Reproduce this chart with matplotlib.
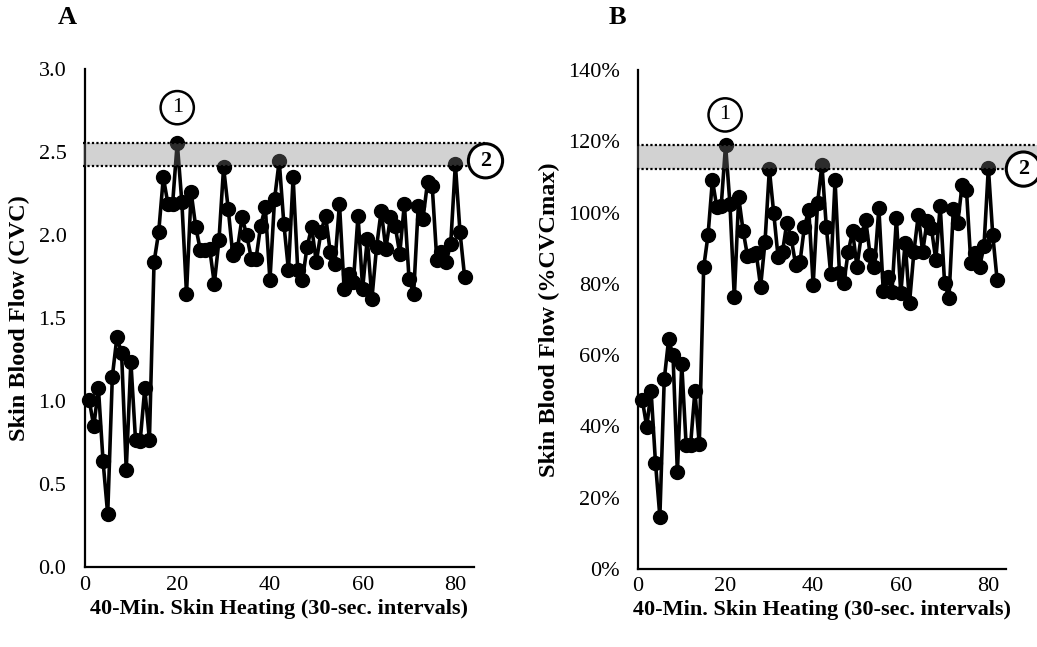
import numpy as np
import matplotlib.pyplot as plt
from matplotlib.ticker import PercentFormatter, FormatStrFormatter

plt.rcParams['font.family'] = ['Liberation Serif', 'DejaVu Serif']

# 30-sec intervals over 40 min of local skin heating
interval = np.arange(1, 83)

# panel A: cutaneous vascular conductance
cvc = np.array([
    1.01, 0.85, 1.08, 0.64, 0.32, 1.15, 1.39, 1.29, 0.59, 1.24,
    0.77, 0.76, 1.08, 0.77, 1.84, 2.02, 2.35, 2.19, 2.19, 2.56,
    2.20, 1.65, 2.26, 2.05, 1.91, 1.91, 1.92, 1.71, 1.97, 2.41,
    2.16, 1.88, 1.92, 2.11, 2.00, 1.86, 1.86, 2.06, 2.17, 1.73,
    2.22, 2.45, 2.07, 1.79, 2.35, 1.79, 1.73, 1.93, 2.05, 1.84,
    2.02, 2.12, 1.90, 1.83, 2.19, 1.68, 1.77, 1.72, 2.12, 1.68,
    1.98, 1.62, 1.93, 2.15, 1.92, 2.11, 2.06, 1.89, 2.19, 1.74,
    1.65, 2.18, 2.10, 2.32, 2.30, 1.85, 1.90, 1.84, 1.95, 2.43,
    2.02, 1.75])

# panel B: same signal as % of CVCmax
pct_cvcmax = np.array([
    47.4, 39.9, 49.9, 29.8, 14.7, 53.2, 64.4, 60.0, 27.1, 57.5,
    34.8, 34.7, 49.9, 35.0, 84.6, 93.7, 109.1, 101.5, 101.8, 119.0,
    102.4, 76.2, 104.3, 94.9, 87.9, 88.0, 88.6, 79.2, 91.7, 112.1,
    99.8, 87.4, 89.0, 97.2, 92.8, 85.3, 86.2, 96.0, 100.7, 79.7,
    102.6, 113.4, 96.0, 82.8, 109.0, 83.0, 80.2, 89.0, 94.7, 84.8,
    93.7, 97.9, 88.1, 84.8, 101.2, 78.1, 82.0, 77.8, 98.4, 77.3,
    91.6, 74.7, 89.0, 99.3, 89.0, 97.5, 95.6, 86.7, 101.9, 80.3,
    76.0, 100.9, 97.0, 107.7, 106.3, 85.8, 88.6, 84.8, 90.6, 112.6,
    93.7, 81.1])

cvc_band = (2.42, 2.56)
pct_band = (112.2, 119.0)

xlabel = '40-Min. Skin Heating (30-sec. intervals)'

fig = plt.figure(figsize=(10.37, 6.47), dpi=100)
axA = fig.add_axes([0.0815, 0.1229, 0.3755, 0.7697])
axB = fig.add_axes([0.6152, 0.1206, 0.3548, 0.7712])


def draw_panel(ax, y, band, band_end, c1, c2):
    ax.plot(interval, y, 'o-', color='black', lw=2.6, ms=10, zorder=3, clip_on=False)
    xs = [-0.3, band_end]
    ax.fill_between(xs, band[0], band[1], color='#808080', alpha=0.35, lw=0,
                    zorder=4, clip_on=False)
    for yy in band:
        ax.plot(xs, [yy, yy], color='black', ls=(0, (1, 1)), lw=1.6, zorder=5,
                clip_on=False)
    ax.text(c1[0], c1[1], '1', ha='center', va='center', fontsize=16, zorder=6,
            bbox=dict(boxstyle='circle,pad=0.32', fc='white', ec='black', lw=1.8),
            clip_on=False)
    ax.text(c2[0], c2[1], '2', ha='center', va='center', fontsize=16,
            fontweight='bold', zorder=6,
            bbox=dict(boxstyle='circle,pad=0.32', fc='white', ec='black', lw=2.2),
            clip_on=False)
    for s in ['top', 'right']:
        ax.spines[s].set_visible(False)
    for s in ['left', 'bottom']:
        ax.spines[s].set_linewidth(1.6)
    ax.tick_params(length=0, labelsize=16)
    ax.tick_params(axis='y', pad=13)
    ax.tick_params(axis='x', pad=6)
    ax.set_xlim(0, 84)
    ax.set_xticks(range(0, 81, 20))
    ax.set_xlabel(xlabel, fontweight='bold', fontsize=16, labelpad=3)


draw_panel(axA, cvc, cvc_band, 86.5, (20, 2.77), (86.5, 2.45))
axA.set_ylim(0, 3)
axA.set_yticks(np.arange(0, 3.01, 0.5))
axA.yaxis.set_major_formatter(FormatStrFormatter('%.1f'))
axA.set_ylabel('Skin Blood Flow (CVC)', fontweight='bold', fontsize=17.5, labelpad=6)

draw_panel(axB, pct_cvcmax, pct_band, 92, (19.9, 127.4), (88, 112.2))
axB.set_ylim(0, 140)
axB.set_yticks(range(0, 141, 20))
axB.yaxis.set_major_formatter(PercentFormatter(decimals=0))
axB.set_ylabel('Skin Blood Flow (%CVCmax)', fontweight='bold', fontsize=17.5, labelpad=6)

fig.text(67 / 1037, 1 - 18 / 647, 'A', fontsize=19, fontweight='bold', ha='center', va='center')
fig.text(617 / 1037, 1 - 18 / 647, 'B', fontsize=19, fontweight='bold', ha='center', va='center')

fig.savefig('out.png', dpi=100)
